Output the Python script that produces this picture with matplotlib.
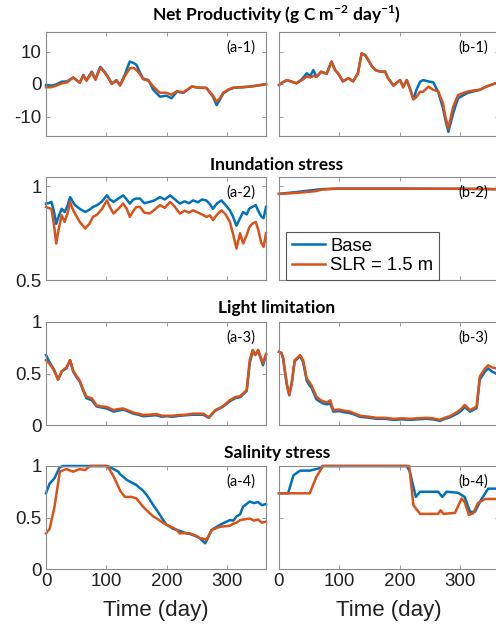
import matplotlib
matplotlib.use("Agg")
import matplotlib.pyplot as plt

plt.rcParams['axes.unicode_minus'] = False
plt.rcParams['mathtext.fontset'] = 'custom'
plt.rcParams['mathtext.bf'] = 'Lato:bold'
plt.rcParams['mathtext.rm'] = 'Lato'

BLUE = '#0072BD'
ORANGE = '#D95319'

# ---------------- data ----------------
titles = ['Net Productivity (g C m$^{\\mathbf{-2}}$ day$^{\\mathbf{-1}}$)',
          'Inundation stress', 'Light limitation', 'Salinity stress']
series_labels = ['Base', 'SLR = 1.5 m']
xticks = [0, 100, 200, 300]

# (a-1)
a1_days = [0, 8, 16, 26, 35, 45, 56, 62, 67, 76, 82, 90, 96, 101, 109, 117, 123, 131, 139, 145, 150,
           156, 161, 170, 178, 189, 200, 208, 217, 228, 242, 255, 266, 277, 283, 288, 294, 303, 311,
           325, 338, 350, 365]
a1_base = [-0.3, -0.5, -0.2, 0.7, 0.8, 2, 0.4, 2.8, 1.2, 3.8, 1.5, 5.3, 4.0, 2.8, 0.2, 1.2, -0.3, 3,
           6.9, 6.5, 5.9, 3.5, 1.7, 1.2, -1.8, -3.9, -3.6, -4.4, -2.4, -2.7, -0.8, -1.2, -1.2, -3.9,
           -6.5, -5, -2.9, -1.8, -1.2, -1.0, -0.8, -0.5, 0]
a1_slr = [-1, -1, -0.6, 0.2, 0.5, 2, 0.4, 2.6, 1.0, 3.5, 1.3, 5.0, 3.8, 2.6, 0.0, 1.0, -0.5, 2.5,
          4.8, 5.0, 4.3, 3.0, 1.5, 1.0, -0.8, -2.7, -2.7, -3.3, -2.2, -2.5, -0.8, -1.1, -1.2, -3.6,
          -5.4, -4.5, -2.7, -1.6, -1.1, -1.0, -0.8, -0.5, -0.1]

# (b-1)
b1_days = [0, 6, 13, 20, 29, 38, 46, 52, 57, 62, 70, 79, 87, 93, 98, 106, 115, 123, 131, 137, 143,
           148, 154, 160, 168, 176, 181, 190, 196, 201, 206, 212, 217, 223, 228, 234, 239, 248, 256,
           264, 272, 276, 281, 289, 297, 311, 322, 333, 344, 359, 365]
b1_base = [-0.3, 0.5, 1.2, 0.8, 0.2, 1.5, 3.3, 2.5, 4.3, 2.2, 3.8, 3.1, 6.9, 4.3, 3.3, 0.8, 1.8, 0.8,
           3.3, 9.4, 8.9, 7.4, 5.5, 4.3, 3.8, 3.8, 1.8, -0.5, 0.5, 1.2, -1.0, 1.2, -1.3, -4.7, -1.8,
           0.7, 1.2, 0.8, 0.5, -2.4, -7.4, -11, -14.7, -9, -4.4, -2.9, -2.3, -1.8, -0.8, 0.2, 0.3]
b1_slr = [-0.3, 0.5, 1.2, 0.8, 0.2, 1.2, 2.3, 2.0, 2.5, 2.2, 3.8, 3.1, 6.9, 4.3, 3.3, 0.8, 1.8, 0.8,
          3.3, 9.4, 8.9, 7.4, 5.5, 4.3, 3.8, 3.8, 1.8, -0.5, 0.5, 1.2, -1.0, 1.2, -1.3, -4.7, -4.0,
          -2.4, -2.4, -0.8, -1.8, -2.2, -5.9, -10, -13.6, -7, -3.4, -2.4, -2.0, -1.8, -0.8, 0.2, 0.3]

# (a-2)
a2_days = [0, 4, 9, 13, 17, 21, 26, 31, 36, 40, 44, 48, 56, 65, 72, 78, 85, 93, 101, 106, 112, 120,
           128, 134, 139, 145, 150, 156, 163, 172, 180, 189, 197, 206, 214, 222, 230, 237, 244, 252,
           259, 266, 272, 277, 284, 291, 298, 305, 310, 316, 322, 327, 333, 337, 342, 348, 352, 357,
           361, 365]
a2_base = [0.908, 0.91, 0.917, 0.87, 0.80, 0.84, 0.88, 0.863, 0.9, 0.943, 0.92, 0.90, 0.88, 0.863,
           0.875, 0.89, 0.9, 0.92, 0.952, 0.93, 0.917, 0.935, 0.952, 0.93, 0.908, 0.93, 0.935, 0.935,
           0.91, 0.917, 0.925, 0.943, 0.93, 0.952, 0.93, 0.908, 0.92, 0.91, 0.925, 0.915, 0.93, 0.925,
           0.905, 0.88, 0.91, 0.925, 0.9, 0.872, 0.84, 0.79, 0.83, 0.863, 0.85, 0.88, 0.89, 0.9, 0.87,
           0.84, 0.83, 0.89]
a2_slr = [0.89, 0.885, 0.88, 0.80, 0.695, 0.77, 0.846, 0.81, 0.86, 0.917, 0.88, 0.855, 0.81, 0.775,
          0.80, 0.837, 0.85, 0.88, 0.925, 0.89, 0.855, 0.88, 0.908, 0.88, 0.837, 0.87, 0.89, 0.89,
          0.86, 0.855, 0.875, 0.9, 0.885, 0.917, 0.89, 0.855, 0.87, 0.86, 0.872, 0.86, 0.85, 0.837,
          0.845, 0.82, 0.85, 0.872, 0.85, 0.81, 0.75, 0.668, 0.75, 0.695, 0.74, 0.78, 0.80, 0.81,
          0.77, 0.70, 0.677, 0.75]

# (b-2)
b2_days = [0, 30, 62, 70, 95, 200, 300, 365]
b2_base = [0.96, 0.97, 0.982, 0.985, 0.988, 0.988, 0.987, 0.985]
b2_slr = [0.96, 0.965, 0.975, 0.982, 0.988, 0.988, 0.987, 0.985]

# (a-3)
a3_days = [0, 5, 9, 14, 20, 26, 34, 40, 45, 50, 56, 62, 67, 76, 84, 92, 101, 112, 120, 128, 137, 145,
           153, 161, 172, 183, 192, 200, 210, 222, 233, 244, 255, 261, 270, 281, 288, 294, 305, 314,
           322, 333, 338, 343, 347, 352, 356, 360, 365]
a3_base = [0.68, 0.62, 0.58, 0.53, 0.44, 0.52, 0.55, 0.63, 0.52, 0.47, 0.42, 0.33, 0.26, 0.24, 0.18,
           0.17, 0.16, 0.13, 0.14, 0.15, 0.13, 0.11, 0.10, 0.085, 0.09, 0.095, 0.08, 0.085, 0.08, 0.09,
           0.095, 0.10, 0.10, 0.10, 0.07, 0.14, 0.16, 0.18, 0.23, 0.26, 0.27, 0.33, 0.60, 0.72, 0.68,
           0.72, 0.65, 0.58, 0.68]
a3_slr = [0.63, 0.6, 0.57, 0.52, 0.44, 0.52, 0.56, 0.63, 0.53, 0.48, 0.43, 0.34, 0.275, 0.26, 0.19,
          0.18, 0.175, 0.145, 0.155, 0.16, 0.14, 0.12, 0.11, 0.097, 0.1, 0.107, 0.09, 0.09, 0.09,
          0.097, 0.1, 0.11, 0.11, 0.11, 0.075, 0.145, 0.165, 0.185, 0.24, 0.27, 0.28, 0.34, 0.63,
          0.73, 0.68, 0.73, 0.66, 0.6, 0.69]

# (b-3)
b3_days = [0, 4, 7, 10, 13, 17, 21, 26, 30, 35, 40, 46, 50, 54, 62, 67, 73, 80, 85, 90, 100, 107,
           118, 126, 134, 150, 162, 176, 190, 205, 217, 230, 245, 255, 267, 275, 284, 297, 303, 308,
           317, 322, 328, 333, 342, 347, 353, 360, 365]
b3_base = [0.71, 0.70, 0.64, 0.51, 0.39, 0.29, 0.40, 0.62, 0.64, 0.67, 0.61, 0.43, 0.39, 0.36, 0.25,
           0.23, 0.21, 0.20, 0.21, 0.13, 0.135, 0.125, 0.115, 0.10, 0.08, 0.07, 0.06, 0.06, 0.05,
           0.055, 0.05, 0.055, 0.06, 0.055, 0.04, 0.06, 0.075, 0.115, 0.14, 0.175, 0.13, 0.145, 0.165,
           0.44, 0.52, 0.55, 0.52, 0.5, 0.49]
b3_slr = [0.71, 0.70, 0.65, 0.52, 0.40, 0.29, 0.40, 0.63, 0.65, 0.68, 0.63, 0.45, 0.42, 0.385, 0.275,
          0.25, 0.23, 0.22, 0.24, 0.145, 0.15, 0.14, 0.13, 0.11, 0.09, 0.08, 0.07, 0.07, 0.06, 0.065,
          0.06, 0.065, 0.07, 0.065, 0.05, 0.07, 0.087, 0.13, 0.16, 0.195, 0.145, 0.16, 0.18, 0.47,
          0.55, 0.58, 0.56, 0.55, 0.54]

# (a-4)
a4_days = [0, 6, 14, 23, 29, 34, 45, 56, 65, 73, 101, 106, 112, 120, 123, 131, 134, 142, 150, 161,
           167, 178, 184, 195, 200, 211, 217, 222, 233, 239, 250, 255, 264, 266, 275, 289, 305, 311,
           316, 322, 327, 338, 345, 352, 358, 365]
a4_base = [0.735, 0.83, 0.88, 0.99, 1, 1, 1, 1, 1, 1, 1, 0.99, 0.97, 0.945, 0.92, 0.88, 0.865, 0.84,
           0.815, 0.76, 0.72, 0.62, 0.57, 0.47, 0.43, 0.39, 0.38, 0.37, 0.345, 0.34, 0.315, 0.30,
           0.25, 0.27, 0.38, 0.43, 0.475, 0.47, 0.51, 0.53, 0.605, 0.655, 0.64, 0.65, 0.62, 0.63]
a4_slr = [0.345, 0.39, 0.6, 0.945, 0.96, 0.97, 0.945, 0.97, 0.96, 1, 1, 0.96, 0.9, 0.8, 0.76, 0.70,
          0.70, 0.70, 0.685, 0.605, 0.57, 0.51, 0.49, 0.445, 0.43, 0.4, 0.38, 0.345, 0.35, 0.345,
          0.32, 0.3, 0.29, 0.28, 0.38, 0.41, 0.42, 0.44, 0.45, 0.475, 0.48, 0.49, 0.47, 0.48, 0.45,
          0.46]

# (b-4)
b4_base_days = [0, 15, 24, 35, 51, 65, 73, 212, 217, 227, 234, 264, 271, 278, 297, 308, 317, 325,
                336, 347, 365]
b4_base = [0.735, 0.735, 0.91, 0.955, 0.955, 0.975, 1, 1, 0.945, 0.70, 0.75, 0.75, 0.70, 0.75, 0.74,
           0.70, 0.555, 0.555, 0.68, 0.78, 0.78]
b4_slr_days = [0, 51, 62, 73, 216, 223, 234, 264, 268, 273, 292, 303, 308, 315, 322, 330, 342, 365]
b4_slr = [0.735, 0.735, 0.895, 1, 1, 0.62, 0.535, 0.535, 0.57, 0.535, 0.545, 0.685, 0.65, 0.525,
          0.54, 0.64, 0.68, 0.68]

panels = [
    [(a1_days, a1_base, a1_days, a1_slr, '(a-1)'), (b1_days, b1_base, b1_days, b1_slr, '(b-1)')],
    [(a2_days, a2_base, a2_days, a2_slr, '(a-2)'), (b2_days, b2_base, b2_days, b2_slr, '(b-2)')],
    [(a3_days, a3_base, a3_days, a3_slr, '(a-3)'), (b3_days, b3_base, b3_days, b3_slr, '(b-3)')],
    [(a4_days, a4_base, a4_days, a4_slr, '(a-4)'),
     (b4_base_days, b4_base, b4_slr_days, b4_slr, '(b-4)')],
]
ylims = [(-16, 16), (0.5, 1.05), (0, 1), (0, 1)]
yticks = [[-10, 0, 10], [0.5, 1], [0, 0.5, 1], [0, 0.5, 1]]
yticklabels = [['-10', '0', '10'], ['0.5', '1'], ['0', '0.5', '1'], ['0', '0.5', '1']]

# ---------------- layout ----------------
W, H = 496, 629
fig = plt.figure(figsize=(W / 100, H / 100), dpi=100)
col_x = [46, 279]
col_w = 220
row_top = [32, 177, 322, 466]
row_h = [104, 103, 103, 103]
title_y = [15, 165, 308, 453]

TICKFONT = 'Liberation Sans'
LABFONT = 'Lato'
SPINE = '#8a8a8a'

for r in range(4):
    fig.text(277 / W, 1 - title_y[r] / H, titles[r], ha='center', va='center',
             fontsize=12.5, fontweight='bold', family=LABFONT, color='black')
    for c in range(2):
        ax = fig.add_axes([col_x[c] / W, 1 - (row_top[r] + row_h[r]) / H, col_w / W, row_h[r] / H])
        bd, bv, sd, sv, lab = panels[r][c]
        lb, = ax.plot(bd, bv, color=BLUE, lw=1.8, label=series_labels[0], clip_on=False,
                      solid_joinstyle='round')
        ls, = ax.plot(sd, sv, color=ORANGE, lw=1.8, label=series_labels[1], clip_on=False,
                      solid_joinstyle='round')
        ax.set_xlim(0, 365)
        ax.set_ylim(*ylims[r])
        ax.set_xticks(xticks)
        ax.set_yticks(yticks[r])
        if c == 0:
            ax.set_yticklabels(yticklabels[r], fontsize=13.5, family=TICKFONT, color='#222222')
        else:
            ax.set_yticklabels([])
        if r == 3:
            ax.set_xticklabels([str(t) for t in xticks], fontsize=13.5, family=TICKFONT,
                               color='#222222')
            ax.set_xlabel('Time (day)', fontsize=16, family=TICKFONT, color='#222222', labelpad=7)
        else:
            ax.set_xticklabels([])
        ax.tick_params(direction='in', length=3, width=0.6, color=SPINE, top=True, right=True,
                       pad=3)
        for s in ax.spines.values():
            s.set_color(SPINE)
            s.set_linewidth(0.8)
        ax.text(0.95, 0.85, lab, transform=ax.transAxes, ha='right', va='center',
                fontsize=10.5, family=LABFONT, color='black', zorder=5)
        if r == 1 and c == 1:
            leg = ax.legend(handles=[lb, ls], loc='lower left', bbox_to_anchor=(0.032, 0.0),
                            borderaxespad=0, prop={'family': TICKFONT, 'size': 13.3},
                            handlelength=1.8, handletextpad=0.3, labelspacing=0.15,
                            borderpad=0.3, fancybox=False, framealpha=1)
            leg.get_frame().set_edgecolor('#555555')
            leg.get_frame().set_linewidth(0.8)

fig.savefig('out.png', dpi=100)
